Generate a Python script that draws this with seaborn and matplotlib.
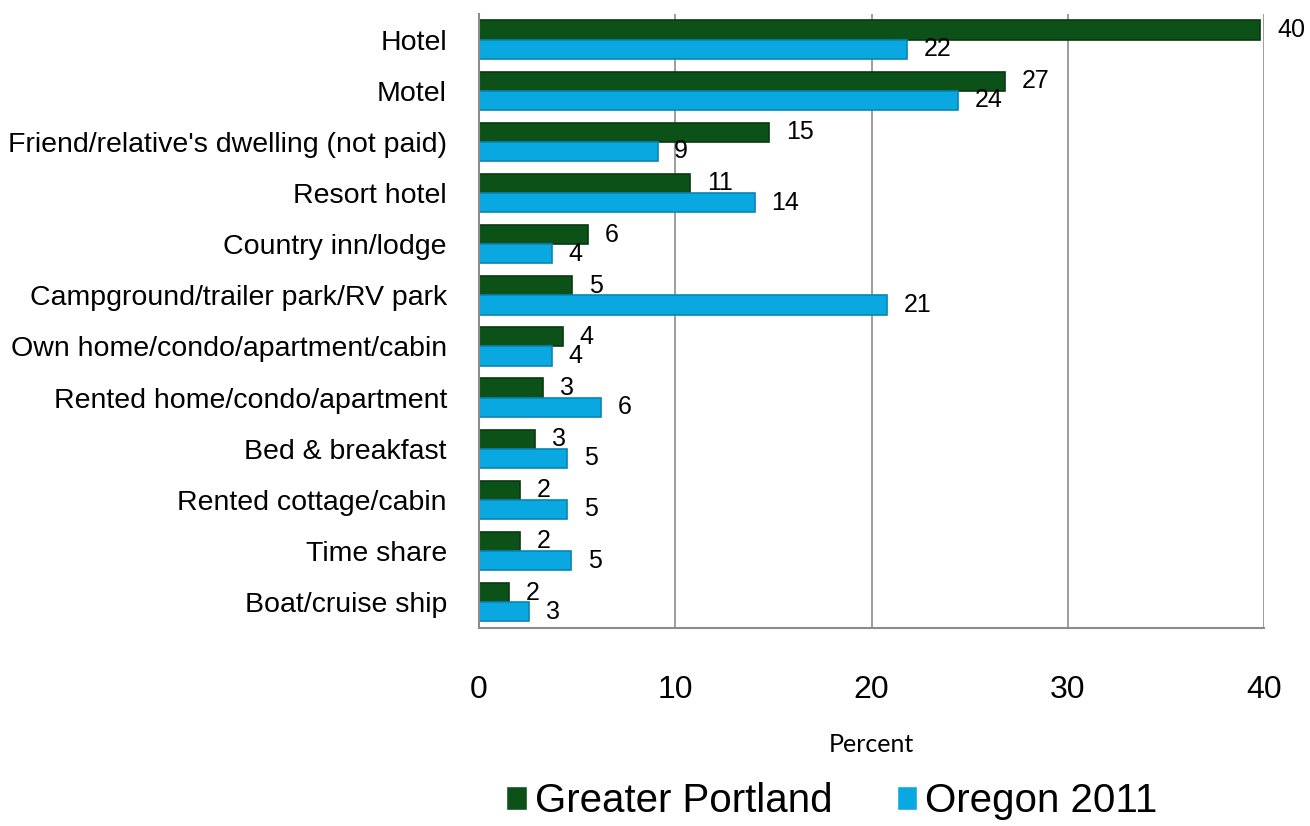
import numpy as np
import pandas as pd
import matplotlib
matplotlib.use("Agg")
import matplotlib.pyplot as plt
import seaborn as sns

categories = [
    "Hotel", "Motel", "Friend/relative's dwelling (not paid)", "Resort hotel",
    "Country inn/lodge", "Campground/trailer park/RV park",
    "Own home/condo/apartment/cabin", "Rented home/condo/apartment",
    "Bed & breakfast", "Rented cottage/cabin", "Time share", "Boat/cruise ship",
]
portland = [39.8, 26.8, 14.8, 10.75, 5.55, 4.74, 4.28, 3.26, 2.85, 2.09, 2.09, 1.53]
oregon = [21.8, 24.4, 9.1, 14.06, 3.72, 20.8, 3.72, 6.2, 4.5, 4.5, 4.7, 2.55]
portland_labels = ["40", "27", "15", "11", "6", "5", "4", "3", "3", "2", "2", "2"]
oregon_labels = ["22", "24", "9", "14", "4", "21", "4", "6", "5", "5", "5", "3"]
series = ["Greater Portland", "Oregon 2011"]
colors = {"Greater Portland": "#0b5118", "Oregon 2011": "#0aa8e0"}
edges = ["#073a10", "#0786b4"]

df = pd.DataFrame({
    "Category": categories * 2,
    "Percent": portland + oregon,
    "Series": [series[0]] * len(categories) + [series[1]] * len(categories),
})

sns.set_style("white")
plt.rcParams["font.family"] = ["Liberation Sans", "DejaVu Sans"]
plt.rcParams["text.color"] = "black"
plt.rcParams["xtick.color"] = "black"
plt.rcParams["ytick.color"] = "black"
plt.rcParams["axes.labelcolor"] = "black"

fig = plt.figure(figsize=(13.1, 8.26), dpi=100)
ax = fig.add_axes([0.3656, 0.240, 0.5994, 0.743])

sns.barplot(data=df, y="Category", x="Percent", hue="Series", order=categories,
            hue_order=series, palette=colors, orient="h", width=0.75,
            saturation=1, ax=ax, legend=True)

for cont, ec in zip(ax.containers, edges):
    for bar in cont:
        bar.set_edgecolor(ec)
        bar.set_linewidth(1.2)

ax.bar_label(ax.containers[0], labels=portland_labels, padding=12, fontsize=18)
ax.bar_label(ax.containers[1], labels=oregon_labels, padding=12, fontsize=18)
for t in ax.texts:
    t.set_clip_on(False)

ax.set_xlim(0, 40)
ax.set_ylim(len(categories) - 0.5, -0.5)
ax.set_xticks([0, 10, 20, 30, 40])
ax.xaxis.grid(True, color="#8c8c8c", linewidth=1.2)
ax.set_axisbelow(True)

for side in ["top", "right"]:
    ax.spines[side].set_visible(False)
for side in ["left", "bottom"]:
    ax.spines[side].set_color("#8c8c8c")
    ax.spines[side].set_linewidth(1.5)

ax.set_yticks(np.arange(len(categories)) - 0.5, minor=True)
ax.tick_params(axis="y", which="major", length=0, pad=23, labelsize=20.5)
ax.tick_params(axis="y", which="minor", length=9, width=1.5, color="#8c8c8c")
ax.tick_params(axis="x", which="major", length=10, width=1.5, color="#8c8c8c",
               direction="out", pad=24, labelsize=23)

ax.set_ylabel("")
ax.set_xlabel("Percent", fontsize=18, family=["Lato", "DejaVu Sans"], labelpad=20)

handles, labels = ax.get_legend_handles_labels()
ax.get_legend().remove()
fig.legend(handles, labels, loc="center", bbox_to_anchor=(0.635, 0.03),
           ncol=2, frameon=False, fontsize=29, handlelength=0.5,
           handleheight=0.55, handletextpad=0.2, columnspacing=1.6)

fig.savefig("out.png", dpi=100)
